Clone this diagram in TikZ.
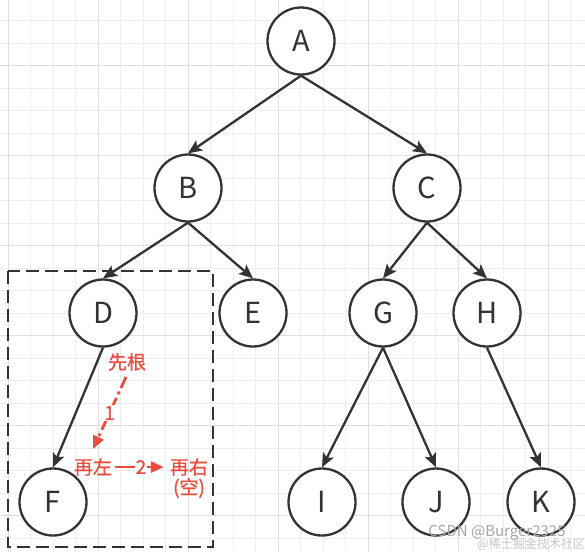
\documentclass[tikz,border=0pt]{standalone}
\usepackage{fontspec}
\setmainfont{Noto Sans CJK SC}
\newfontfamily\notefont[FakeBold=0.8]{Noto Sans CJK SC}
\usepackage{tikz}
\usetikzlibrary{arrows.meta,positioning}
\definecolor{linegray}{RGB}{51,51,51}
\definecolor{notered}{RGB}{234,76,61}
\definecolor{gridminor}{RGB}{238,238,238}
\definecolor{gridmajor}{RGB}{224,224,224}
\tikzset{
    treenode/.style={
        circle,
        draw=linegray,
        line width=2.3pt,
        fill=white,
        minimum size=67pt,
        inner sep=0pt,
        text=linegray,
        font=\fontsize{29}{29}\selectfont
    },
    treearrow/.style={
        line width=2.3pt,
        linegray,
        -{Stealth[length=14pt, width=12pt, inset=3pt]}
    },
    % 红色注释
    notetext/.style={
        notered,
        inner sep=1pt,
        font=\notefont\fontsize{19}{21}\selectfont
    },
    notelabel/.style={
        notered,
        fill=white,
        inner sep=1pt,
        font=\notefont\fontsize{19}{19}\selectfont
    },
    notearrow/.style={
        line width=2.8pt,
        notered,
        -{Triangle[length=13pt, width=11pt]}
    },
    focusbox/.style={
        line width=2.8pt,
        linegray,
        dash pattern=on 13pt off 6pt
    }
}

\begin{document}
\begin{tikzpicture}[x=1pt, y=-1pt]
        \useasboundingbox (0,0) rectangle (585,552);
        \fill[white] (0,0) rectangle (585,552);

        % 网格
        \foreach \gx in {8.3,30.8,...,585} \draw[gridminor, line width=1pt] (\gx,0) -- (\gx,552);
        \foreach \gy in {-1.8,20.7,...,552} \draw[gridminor, line width=1pt] (0,\gy) -- (585,\gy);
        \foreach \gx in {8.3,98.3,...,585} \draw[gridmajor, line width=1.2pt] (\gx,0) -- (\gx,552);
        \foreach \gy in {65.7,155.7,...,552} \draw[gridmajor, line width=1.2pt] (0,\gy) -- (585,\gy);

        \draw[focusbox] (8,271) rectangle (213,547);

        \node[treenode] (A) at (301,41) {A};
        \node[treenode] (B) at (188,188) {B};
        \node[treenode] (C) at (427,188) {C};
        \node[treenode] (D) at (103,313) {D};
        \node[treenode] (E) at (253,313) {E};
        \node[treenode] (G) at (383,313) {G};
        \node[treenode] (H) at (487,313) {H};
        \node[treenode] (F) at (53,502) {F};
        \node[treenode] (I) at (322,502) {I};
        \node[treenode] (J) at (436,502) {J};
        \node[treenode] (K) at (541,502) {K};

        \draw[treearrow] (A.south) -- (B.north);
        \draw[treearrow] (A.south) -- (C.north);
        \draw[treearrow] (B.south) -- (D.north);
        \draw[treearrow] (B.south) -- (E.north);
        \draw[treearrow] (C.south) -- (G.north);
        \draw[treearrow] (C.south) -- (H.north);
        \draw[treearrow] (D.south) -- (F.north);
        \draw[treearrow] (G.south) -- (I.north);
        \draw[treearrow] (G.south) -- (J.north);
        \draw[treearrow] (H.south) -- (K.north);

        \node[notetext] (xiangen) at (127,362) {先根};
        \node[notetext] (zaizuo) at (93,467) {再左};
        \node[notetext] (zaiyou) at (189,467) {再右};
        \node[notetext, below=0pt of zaiyou] (kong) {(空)};

        \coordinate (onefrom) at (126,377);
        \coordinate (oneto) at (93,449);
        \draw[notearrow, dash pattern=on 12pt off 4pt on 3pt off 4pt] (onefrom) -- node[notelabel] (one) {1} (oneto);
        \draw[notearrow, shorten >=5pt, shorten <=2pt] (zaizuo.east) -- node[notelabel] (two) {2} (zaiyou.west);

        \node[gray!70, font=\fontsize{15}{15}\selectfont, inner sep=0pt] (csdn) at (497,533) {CSDN @Burger2325};
        \node[gray!45, font=\fontsize{12}{12}\selectfont, inner sep=0pt, anchor=east] (juejin) at (585,544) {@稀土掘金技术社区};

\end{tikzpicture}
\end{document}
